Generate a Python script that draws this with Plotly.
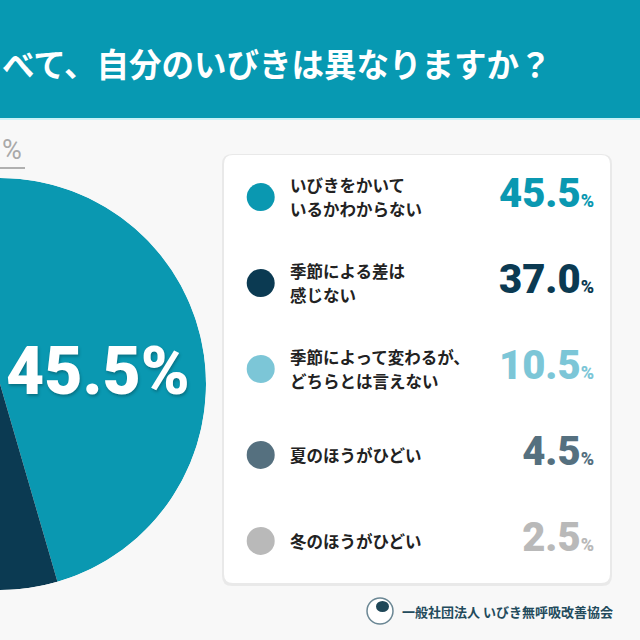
import numpy as np
import plotly.graph_objects as go

# ---------------- data ----------------
title_text = "べて、自分のいびきは異なりますか？"
categories = [
    "いびきをかいて<br>いるかわからない",
    "季節による差は<br>感じない",
    "季節によって変わるが、<br>どちらとは言えない",
    "夏のほうがひどい",
    "冬のほうがひどい",
]
values = [45.5, 37.0, 10.5, 4.5, 2.5]
colors = ["#0a98b1", "#0b3a52", "#7cc6d7", "#55707f", "#b9b9b9"]
org_name = "一般社団法人 いびき無呼吸改善協会"
corner_note = "%"

W = H = 640
JP = "Noto Sans CJK JP"
NUM = "Roboto"


def px(x):
    return x / W


def py(y):
    return 1 - y / H


def rrect(x0, y0, x1, y1, r):
    X0, X1 = px(x0), px(x1)
    Y0, Y1 = py(y0), py(y1)
    rr = r / W
    return (f"M {X0+rr},{Y0} L {X1-rr},{Y0} Q {X1},{Y0} {X1},{Y0-rr} "
            f"L {X1},{Y1+rr} Q {X1},{Y1} {X1-rr},{Y1} L {X0+rr},{Y1} "
            f"Q {X0},{Y1} {X0},{Y1+rr} L {X0},{Y0-rr} Q {X0},{Y0} {X0+rr},{Y0} Z")


fig = go.Figure()

# ---------------- pie (barpolar wedges, clockwise from 12 o'clock) ----------------
cum = np.concatenate([[0], np.cumsum(values)[:-1]])
theta = [(c + v / 2) * 3.6 for c, v in zip(cum, values)]
widths = [v * 3.6 for v in values]
fig.add_trace(go.Barpolar(
    r=[1] * len(values), theta=theta, width=widths,
    marker=dict(color=colors, line=dict(width=0)),
    showlegend=False, hoverinfo="skip",
))

R = 206
CY = 384
fig.update_layout(polar=dict(
    domain=dict(x=[0, px(R)], y=[py(CY + R), py(CY - R)]),
    sector=[-90, 90],
    bgcolor="rgba(0,0,0,0)",
    bargap=0,
    radialaxis=dict(visible=False, range=[0, 1]),
    angularaxis=dict(visible=False, direction="clockwise", rotation=90),
))

# ---------------- legend card (cartesian axis) ----------------
rows = list(range(len(values)))
fig.add_trace(go.Scatter(
    x=[36.7] * len(values), y=rows, mode="markers",
    marker=dict(size=28, color=colors, line=dict(width=0)),
    showlegend=False, hoverinfo="skip", xaxis="x", yaxis="y",
))
fig.add_trace(go.Scatter(
    x=[370] * len(values), y=rows, mode="text",
    text=[f"{v:.1f}<span style='font-size:18px'>%</span>" for v in values],
    textposition="middle left",
    textfont=dict(family=NUM, size=40, color=colors, weight=900),
    showlegend=False, hoverinfo="skip", xaxis="x", yaxis="y",
))

fig.update_layout(
    xaxis=dict(domain=[px(224), px(610)], range=[0, 386], visible=False, fixedrange=True),
    yaxis=dict(domain=[py(583), py(155)], range=[4.49, -0.49], visible=False, fixedrange=True),
)

# ---------------- shapes ----------------
shapes = []
shapes.append(dict(type="rect", xref="paper", yref="paper", x0=0, x1=1, y0=py(118), y1=1,
                   fillcolor="#0799b2", line=dict(width=0), layer="below"))
shapes.append(dict(type="line", xref="paper", yref="paper", x0=0, x1=1, y0=py(119), y1=py(119),
                   line=dict(color="#c9f1f7", width=2), layer="below"))
shapes.append(dict(type="path", xref="paper", yref="paper", path=rrect(222, 154, 612, 586, 10),
                   fillcolor="rgba(0,0,0,0.06)", line=dict(width=0), layer="below"))
shapes.append(dict(type="path", xref="paper", yref="paper", path=rrect(224, 155, 610, 583, 9),
                   fillcolor="#ffffff", line=dict(width=0), layer="below"))
shapes.append(dict(type="line", xref="paper", yref="paper", x0=0, x1=px(25), y0=py(168), y1=py(168),
                   line=dict(color="#b0b0b0", width=2), layer="below"))
shapes.append(dict(type="circle", xref="paper", yref="paper", x0=px(367), x1=px(393),
                   y0=py(624), y1=py(598), fillcolor="#ffffff", line=dict(color="#6b8794", width=1.5)))
shapes.append(dict(type="circle", xref="paper", yref="paper", x0=px(376), x1=px(389),
                   y0=py(612), y1=py(601), fillcolor="#1f4758", line=dict(width=0)))

# ---------------- annotations ----------------
ann = []
ann.append(dict(text=title_text, xref="paper", yref="paper", x=0, y=py(62), xanchor="left",
                yanchor="middle", showarrow=False,
                font=dict(family=JP, size=32.5, color="#ffffff", weight="bold")))
ann.append(dict(text=corner_note, xref="paper", yref="paper", x=px(24), y=py(150), xanchor="right",
                yanchor="middle", showarrow=False,
                font=dict(family=NUM, size=27, color="#a9a9a9")))
ann.append(dict(text=f"{values[0]:.1f}%", xref="paper", yref="paper", x=px(98), y=py(371),
                xanchor="center", yanchor="middle", showarrow=False,
                font=dict(family=NUM, size=66, color="#ffffff", weight=900,
                          shadow="1px 2px 3px rgba(0,0,0,0.25)")))
ann.append(dict(text=org_name, xref="paper", yref="paper", x=px(400), y=py(611), xanchor="left",
                yanchor="middle", showarrow=False,
                font=dict(family=JP, size=13, color="#234b5c", weight="bold")))
# legend labels: each line of each category placed on the legend axis rows
LINE_GAP = 24
for i, lab in enumerate(categories):
    lines = lab.split("<br>")
    n = len(lines)
    for j, line in enumerate(lines):
        shift = ((n - 1) / 2 - j) * LINE_GAP
        ann.append(dict(text=line, xref="x", yref="y", x=64, y=rows[i], xanchor="left",
                        yanchor="middle", yshift=shift, showarrow=False,
                        font=dict(family=JP, size=16.5, color="#222222", weight="bold")))

fig.update_layout(
    width=W, height=H,
    margin=dict(l=0, r=0, t=0, b=0),
    paper_bgcolor="#f8f8f8",
    plot_bgcolor="rgba(0,0,0,0)",
    shapes=shapes,
    annotations=ann,
    showlegend=False,
)

fig.write_html("out.html", config={"displayModeBar": False},
               post_script="document.body.style.margin='0';")
